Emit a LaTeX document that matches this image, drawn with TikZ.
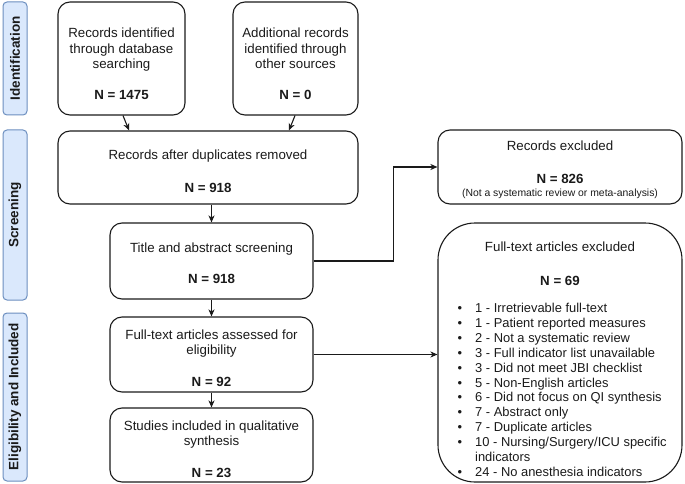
\documentclass[tikz,border=0pt]{standalone}
\usepackage{fontspec}
\setmainfont{Liberation Sans}
\usetikzlibrary{arrows.meta,calc}
\definecolor{sidefill}{HTML}{DAE8FC}
\definecolor{sideline}{HTML}{6C8EBF}
\definecolor{ink}{HTML}{1A1A1A}
\begin{document}
\begin{tikzpicture}[x=1pt,y=-1pt,
  box/.style={draw=ink,line width=1.1pt,rounded corners=12pt,inner sep=0pt},
  bigbox/.style={draw=ink,line width=1.1pt,rounded corners=37pt,inner sep=0pt},
  side/.style={draw=sideline,fill=sidefill,line width=1pt,rounded corners=4pt,inner sep=0pt},
  sidetxt/.style={rotate=90,font=\fontsize{13.5}{15}\selectfont\bfseries,text=ink},
  txt/.style={align=center,inner sep=0pt,text=ink,font=\fontsize{13.3}{15.5}\selectfont},
  one/.style={anchor=base,inner sep=0pt,text=ink,font=\fontsize{13.3}{15.5}\selectfont},
  small/.style={anchor=base,inner sep=0pt,text=ink,font=\fontsize{10.4}{12}\selectfont},
  listtxt/.style={anchor=base west,inner sep=0pt,text=ink,font=\fontsize{12.9}{14.9}\selectfont},
  bul/.style={anchor=base,inner sep=0pt,text=ink,font=\fontsize{12.9}{14.9}\selectfont},
  arr/.style={draw=ink,line width=1.1pt,-{Stealth[length=7pt,width=6pt,inset=2pt]}}
]
\useasboundingbox (0,0) rectangle (685,484);

% side labels
\node[side,minimum width=24pt,minimum height=113pt] (s1) at (15,58.5) {};
\node[sidetxt] (s1t) at (s1.center) {Identification};
\node[side,minimum width=24pt,minimum height=170pt] (s2) at (15,215) {};
\node[sidetxt] (s2t) at (s2.center) {Screening};
\node[side,minimum width=24pt,minimum height=168pt] (s3) at (15,397) {};
\node[sidetxt] (s3t) at (s3.center) {Eligibility and Included};

% main boxes
\node[box,minimum width=127pt,minimum height=113pt] (b1) at (121.5,58.5) {};
\node[txt] (t1) at (121.5,64) {Records identified\\through database\\searching\\[15.5pt]\textbf{N = 1475}};
\node[box,minimum width=125pt,minimum height=113pt] (b2) at (295.5,58.5) {};
\node[txt] (t2) at (295.5,64) {Additional records\\identified through\\other sources\\[15.5pt]\textbf{N = 0}};
\node[box,minimum width=300pt,minimum height=73pt] (b3) at (208,167.5) {};
\node[txt] (t3) at (208,171) {Records after duplicates removed\\[18pt]\textbf{N = 918}};
\node[box,minimum width=203pt,minimum height=76pt] (b4) at (211.5,261) {};
\node[txt] (t4) at (211.5,263.5) {Title and abstract screening\\[15.5pt]\textbf{N = 918}};
\node[box,minimum width=203pt,minimum height=75pt] (b5) at (211.5,354.5) {};
\node[txt] (t5) at (211.5,358) {Full-text articles assessed for\\eligibility\\[16pt]\textbf{N = 92}};
\node[box,minimum width=203pt,minimum height=74pt] (b6) at (211.5,445) {};
\node[txt] (t6) at (211.5,449) {Studies included in qualitative\\synthesis\\[16pt]\textbf{N = 23}};

% right boxes
\node[box,minimum width=244pt,minimum height=74pt] (rex) at (560,167) {};
\node[one] (rext) at (560,150.5) {Records excluded};
\node[one] (rexn) at (560,183) {\textbf{N = 826}};
\node[small] (rexs) at (560,196.5) {(Not a systematic review or meta-analysis)};

\node[bigbox,minimum width=244pt,minimum height=259pt] (fte) at (560,352.5) {};
\node[one] (ftet) at (560,251.5) {Full-text articles excluded};
\node[one] (ften) at (560,285) {\textbf{N = 69}};
\foreach \txt [count=\i] in {{1 - Irretrievable full-text},{1 - Patient reported measures},{2 - Not a systematic review},{3 - Full indicator list unavailable},{3 - Did not meet JBI checklist},{5 - Non-English articles},{6 - Did not focus on QI synthesis},{7 - Abstract only},{7 - Duplicate articles},{10 - Nursing/Surgery/ICU specific},{indicators},{24 - No anesthesia indicators}}
  {\node[listtxt] (li\i) at ({475},{312.5+14.9*(\i-1)}) {\txt};}
\foreach \i in {1,...,10,12}
  {\node[bul] (bu\i) at ({460},{312.5+14.9*(\i-1)}) {\textbullet};}

% connectors
\draw[arr] ([xshift=1.5pt]b1.south) -- ([xshift=7.5pt]b1.south |- b3.north);
\draw[arr] ([xshift=-0.5pt]b2.south) -- ([xshift=-6.5pt]b2.south |- b3.north);
\draw[arr] (b4.north |- b3.south) -- (b4.north);
\draw[arr] (b4.south) -- (b5.north);
\draw[arr] (b5.south) -- (b6.north);
\draw[arr] (b4.east) -- ++(80,0) |- (rex.west);
\draw[arr] (b5.east) -- (b5.east -| fte.west);
\end{tikzpicture}
\end{document}
